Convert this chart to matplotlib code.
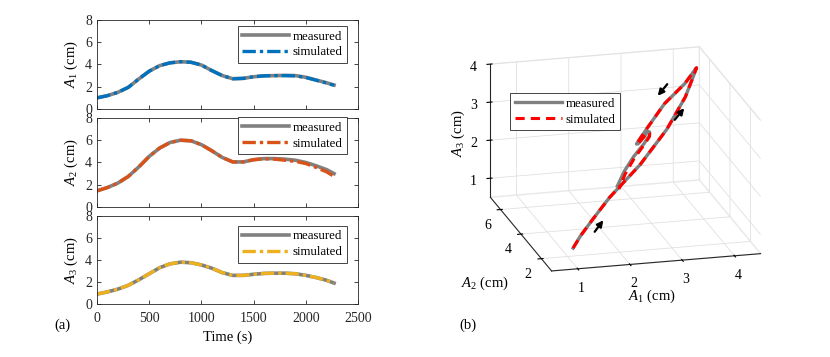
import matplotlib
matplotlib.use("Agg")
import matplotlib.pyplot as plt
from matplotlib.patches import FancyArrowPatch
from mpl_toolkits.mplot3d import Axes3D  # noqa: F401

plt.rcParams['font.family'] = ['Liberation Serif', 'DejaVu Serif']
plt.rcParams['mathtext.fontset'] = 'custom'
plt.rcParams['mathtext.rm'] = 'Liberation Serif'
plt.rcParams['mathtext.it'] = 'Liberation Serif:italic'
plt.rcParams['grid.color'] = '#e0e0e0'
plt.rcParams['grid.linewidth'] = 0.6

# time samples (s)
time = [0, 100, 200, 300, 400, 500, 600, 700, 800, 900, 1000, 1100, 1200,
        1300, 1400, 1500, 1600, 1700, 1800, 1900, 2000, 2100, 2200, 2270]

# actuator lengths (cm), measured vs simulated
a1_meas = [1.0, 1.2, 1.5, 1.95, 2.7, 3.4, 3.9, 4.15, 4.25, 4.2, 3.95, 3.45, 3.0,
           2.72, 2.75, 2.9, 2.98, 3.0, 3.02, 3.0, 2.85, 2.6, 2.35, 2.15]
a1_sim = [1.0, 1.2, 1.5, 1.95, 2.7, 3.4, 3.9, 4.15, 4.25, 4.2, 3.95, 3.45, 3.0,
          2.72, 2.75, 2.9, 2.98, 3.0, 3.0, 2.98, 2.83, 2.58, 2.33, 2.13]
a2_meas = [1.45, 1.75, 2.15, 2.75, 3.6, 4.55, 5.3, 5.8, 6.0, 5.95, 5.6, 5.05, 4.45,
           4.05, 4.05, 4.25, 4.35, 4.35, 4.3, 4.2, 4.0, 3.7, 3.35, 3.0]
a2_sim = [1.45, 1.75, 2.15, 2.75, 3.6, 4.55, 5.3, 5.8, 6.0, 5.95, 5.6, 5.05, 4.45,
          4.05, 4.05, 4.25, 4.33, 4.3, 4.2, 4.1, 3.9, 3.55, 3.15, 2.75]
a3_meas = [0.9, 1.1, 1.35, 1.7, 2.2, 2.75, 3.3, 3.65, 3.8, 3.75, 3.55, 3.25, 2.85,
           2.6, 2.6, 2.7, 2.78, 2.8, 2.8, 2.75, 2.6, 2.4, 2.15, 1.9]
a3_sim = [0.9, 1.1, 1.35, 1.7, 2.2, 2.75, 3.3, 3.65, 3.8, 3.75, 3.55, 3.25, 2.85,
          2.6, 2.6, 2.7, 2.78, 2.8, 2.8, 2.75, 2.6, 2.4, 2.15, 1.9]

sim_colors = ['#0072BD', '#D95319', '#EDB120']
meas_color = '#808080'
axis_color = '#262626'

fig = plt.figure(figsize=(8.3, 3.57), dpi=100)

# (a) time series
positions = [[0.1169, 0.6947, 0.3145, 0.2493],
             [0.1169, 0.4202, 0.3145, 0.2493],
             [0.1169, 0.1485, 0.3145, 0.2465]]
legend_anchor = [(0.958, 0.933), (0.958, 1.01), (0.958, 0.89)]
meas_all = [a1_meas, a2_meas, a3_meas]
sim_all = [a1_sim, a2_sim, a3_sim]

for i in range(3):
    ax = fig.add_axes(positions[i])
    ax.plot(time, meas_all[i], color=meas_color, lw=2.6, label='measured')
    ax.plot(time, sim_all[i], color=sim_colors[i], lw=2.4, ls=(0, (4, 1.2, 1, 1.2)),
            label='simulated')
    ax.set_xlim(0, 2500)
    ax.set_ylim(0, 8)
    ax.set_yticks([0, 2, 4, 6, 8])
    ax.set_xticks([0, 500, 1000, 1500, 2000, 2500])
    ax.tick_params(direction='in', length=3, top=True, right=True,
                   labelsize=10, colors=axis_color, width=0.6)
    ax.tick_params(axis='x', pad=6)
    for s in ax.spines.values():
        s.set_color(axis_color)
        s.set_linewidth(0.6)
    ax.set_ylabel(f'$A_{i + 1}$ (cm)', fontsize=10.5, labelpad=4)
    if i < 2:
        ax.set_xticklabels([])
    else:
        ax.set_xlabel('Time (s)', fontsize=10.5, labelpad=4)
    leg = ax.legend(loc='upper right', bbox_to_anchor=legend_anchor[i],
                    borderaxespad=0, fontsize=9.3, handlelength=3.6,
                    fancybox=False, framealpha=1, edgecolor=axis_color,
                    borderpad=0.35, labelspacing=0.3, handletextpad=0.3)
    leg.get_frame().set_linewidth(0.6)

fig.text(0.066, 0.08, '(a)', fontsize=10.5)

# (b) 3D trajectory
ax3 = fig.add_axes([0.528, 0.062, 0.44, 0.96], projection='3d')
ax3.set_proj_type('ortho')
ax3.plot(a1_meas, a2_meas, a3_meas, color=meas_color, lw=2.4, label='measured')
ax3.plot(a1_sim, a2_sim, a3_sim, color='red', lw=2.2, ls=(0, (3, 2)), label='simulated')
ax3.set_xlim(0.5, 4.5)
ax3.set_ylim(1, 7)
ax3.set_zlim(0.5, 4)
ax3.set_xticks([1, 2, 3, 4])
ax3.set_yticks([2, 4, 6])
ax3.set_zticks([1, 2, 3, 4])
ax3.set_box_aspect((1.54, 1.72, 1.0))
ax3.view_init(elev=18.4, azim=-104.7)
for a in (ax3.xaxis, ax3.yaxis, ax3.zaxis):
    a.pane.set_facecolor('white')
    a.pane.set_edgecolor('#e0e0e0')
    a.line.set_color(axis_color)
    a.line.set_linewidth(0.8)
ax3.tick_params(labelsize=10, pad=0)
leg3 = ax3.legend(loc='upper left', bbox_to_anchor=(0.178, 0.705), borderaxespad=0,
                  fontsize=9.3, handlelength=3.6, fancybox=False, framealpha=1,
                  edgecolor=axis_color, borderpad=0.35, labelspacing=0.3,
                  handletextpad=0.3)
leg3.get_frame().set_linewidth(0.6)

# axis labels placed like the original (horizontal / vertical)
fig.text(652 / 830, 1 - 296 / 357, '$A_1$ (cm)', fontsize=10.5, ha='center', va='center')
fig.text(485 / 830, 1 - 283 / 357, '$A_2$ (cm)', fontsize=10.5, ha='center', va='center')
fig.text(458 / 830, 1 - 133 / 357, '$A_3$ (cm)', fontsize=10.5, ha='center', va='center',
         rotation=90)

# direction arrows
arrow_style = dict(arrowstyle='-|>', color='black', lw=1.6, mutation_scale=9,
                   transform=fig.transFigure)
fig.add_artist(FancyArrowPatch((593 / 830, 1 - 234 / 357), (605 / 830, 1 - 218 / 357), **arrow_style))
fig.add_artist(FancyArrowPatch((673 / 830, 1 - 122 / 357), (686 / 830, 1 - 106 / 357), **arrow_style))
fig.add_artist(FancyArrowPatch((669 / 830, 1 - 82 / 357), (656 / 830, 1 - 98 / 357), **arrow_style))

fig.text(0.553, 0.08, '(b)', fontsize=10.5)

fig.savefig('out.png', dpi=100)
